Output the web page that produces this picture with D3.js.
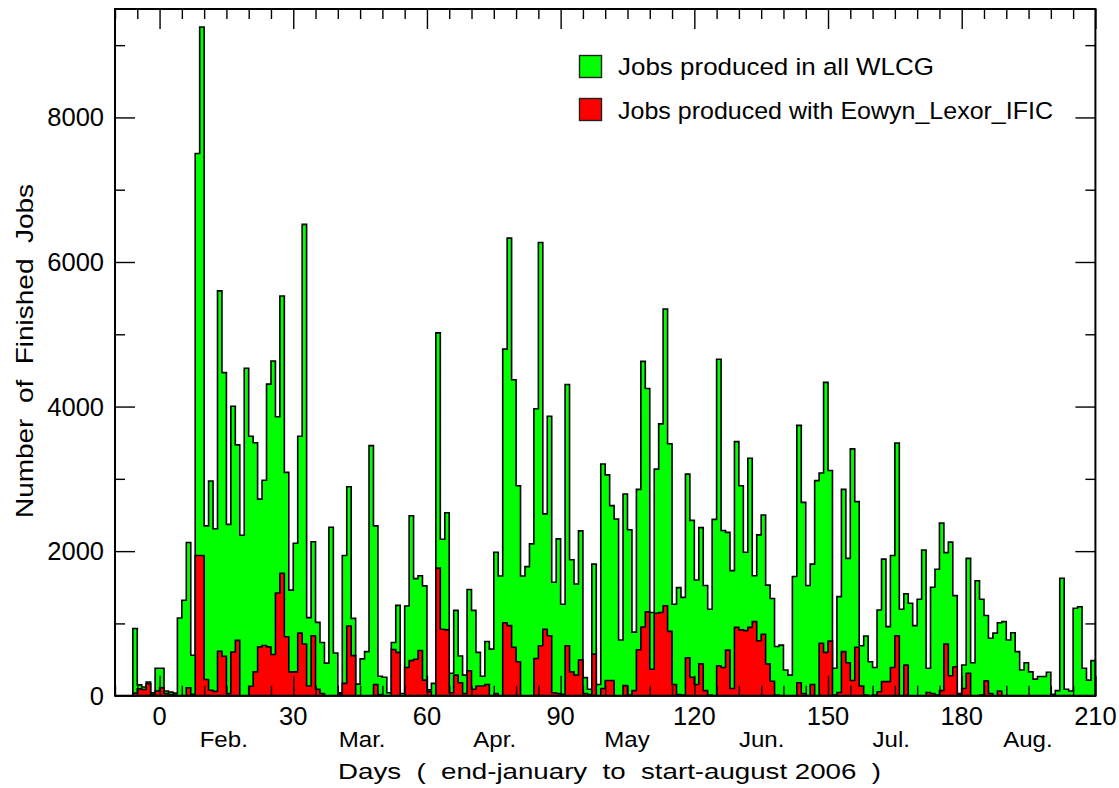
<!DOCTYPE html>
<html>
<head>
<meta charset="utf-8">
<script src="https://cdn.jsdelivr.net/npm/d3@7.9.0/dist/d3.min.js"></script>
<style>
  body { margin: 0; background: #fff; }
  svg text { font-family: "Liberation Sans", Arial, sans-serif; fill: #000; }
</style>
</head>
<body>
<div id="chart"></div>
<script>
// daily bins, first bin is day -6, last bin is day 209
const firstDay = -6;

const allJobs = [
  930, 150, 120, 190, 40, 380, 380, 65, 50, 35,
  1075, 1320, 2120, 560, 7500, 9250, 2350, 2970, 2310, 5600,
  4470, 2370, 4005, 3470, 2220, 4530, 3590, 3500, 2720, 2980,
  4310, 4630, 3860, 5530, 3090, 1460, 2110, 3590, 6520, 1080,
  2130, 1015, 735, 450, 2330, 590, 40, 1940, 2890, 1070,
  160, 510, 610, 3460, 2350, 270, 255, 40, 735, 1250,
  30, 1240, 2490, 1620, 1660, 1520, 80, 170, 5020, 2165,
  2530, 310, 1180, 550, 285, 1470, 1180, 600, 270, 750,
  645, 1985, 1655, 4795, 6330, 4370, 2905, 1655, 1785, 2100,
  3970, 6270, 2515, 3865, 1570, 2170, 1265, 4305, 1880, 1545,
  2280, 250, 90, 1820, 155, 3205, 3055, 2630, 2445, 770,
  2790, 2295, 880, 2855, 4625, 4250, 1150, 3135, 3760, 5350,
  3485, 1265, 1495, 1360, 3065, 2425, 1600, 2325, 1525, 1195,
  2440, 4655, 2285, 2260, 1730, 3515, 2905, 1985, 3285, 1660,
  2225, 2500, 1530, 1345, 680, 700, 355, 285, 1650, 3740,
  2675, 1525, 1820, 2975, 3080, 4335, 3115, 380, 1370, 2855,
  1900, 3415, 2685, 690, 825, 470, 390, 1185, 1890, 955,
  1940, 3495, 1195, 1410, 1280, 970, 1335, 2015, 380, 1500,
  1750, 2390, 1980, 2125, 1385, 30, 425, 1900, 455, 1590,
  1335, 1110, 795, 865, 1010, 1025, 770, 870, 610, 355,
  455, 330, 230, 265, 265, 325, 20, 70, 1625, 90,
  65, 1210, 1230, 380, 215, 485
];

const ificJobs = [
  35, 95, 85, 165, 20, 65, 110, 30, 15, 10,
  0, 0, 110, 20, 1940, 1940, 225, 75, 60, 615,
  545, 30, 605, 765, 0, 0, 130, 330, 675, 695,
  675, 570, 1420, 1695, 815, 330, 330, 865, 715, 135,
  830, 90, 30, 0, 0, 0, 25, 170, 965, 555,
  0, 0, 0, 0, 155, 15, 0, 0, 640, 600,
  0, 390, 485, 505, 625, 215, 55, 0, 1765, 920,
  910, 40, 285, 180, 30, 345, 90, 135, 135, 155,
  0, 30, 0, 1010, 970, 670, 470, 0, 0, 0,
  515, 690, 920, 830, 40, 30, 20, 690, 330, 285,
  495, 30, 15, 575, 0, 100, 210, 210, 0, 0,
  140, 10, 70, 635, 950, 1160, 365, 1140, 1150, 1245,
  890, 155, 15, 10, 525, 255, 155, 440, 70, 10,
  0, 415, 390, 630, 100, 945, 910, 900, 945, 1025,
  760, 850, 440, 200, 10, 0, 0, 0, 0, 180,
  30, 0, 155, 0, 725, 600, 755, 10, 45, 610,
  455, 210, 670, 135, 10, 0, 10, 55, 195, 195,
  390, 830, 0, 425, 0, 0, 0, 0, 45, 30,
  10, 70, 715, 275, 400, 20, 100, 310, 0, 0,
  10, 205, 30, 0, 65, 0, 0, 0, 0, 0,
  0, 0, 0, 0, 0, 0, 0, 0, 0, 0,
  0, 0, 0, 0, 0, 0
];

const xTicks = [0, 30, 60, 90, 120, 150, 180, 210];
const yTicks = [0, 2000, 4000, 6000, 8000];
const months = ["Feb.", "Mar.", "Apr.", "May", "Jun.", "Jul.", "Aug."];
const monthDays = [9, 40.2, 70.4, 99.8, 130, 160, 189.3];

const seriesNames = ["Jobs produced in all WLCG", "Jobs produced with Eowyn_Lexor_IFIC"];
const seriesColors = ["#00ff00", "#ff0000"];

const width = 1119;
const height = 788;
const plot = { left: 115, right: 1095.4, top: 9, bottom: 695.7 };

const svg = d3.select("#chart").append("svg")
    .attr("width", width)
    .attr("height", height);

const x = d3.scaleLinear().domain([-10, 210]).range([plot.left, plot.right]);
const y = d3.scaleLinear().domain([0, 9500]).range([plot.bottom, plot.top]);

function binPoints(values) {
    const pts = values.map((v, i) => [firstDay + i, v]);
    pts.push([firstDay + values.length, values[values.length - 1]]);
    return pts;
}

const area = d3.area()
    .x(d => x(d[0]))
    .y0(y(0))
    .y1(d => y(d[1]))
    .curve(d3.curveStepAfter);

[allJobs, ificJobs].forEach((vals, k) => {
    svg.append("path")
        .datum(binPoints(vals))
        .attr("fill", seriesColors[k])
        .attr("stroke", "#000")
        .attr("stroke-width", 1.6)
        .attr("stroke-linejoin", "miter")
        .attr("d", area);
});

// ticks pointing inside on all four sides
const minorX = d3.range(-10, 211, 5).filter(d => d % 30 !== 0);
const minorY = d3.range(1000, 9500, 2000);

function inward(axisFn, scale, values, size, translate) {
    svg.append("g")
        .attr("transform", translate)
        .call(axisFn(scale).tickValues(values).tickSize(-size).tickSizeOuter(0).tickFormat(""))
        .call(g => g.select(".domain").remove())
        .call(g => g.selectAll("line").attr("stroke", "#000").attr("stroke-width", 1.4));
}
inward(d3.axisBottom, x, xTicks, 20, `translate(0,${plot.bottom})`);
inward(d3.axisBottom, x, minorX, 10, `translate(0,${plot.bottom})`);
inward(d3.axisTop, x, xTicks, 20, `translate(0,${plot.top})`);
inward(d3.axisTop, x, minorX, 10, `translate(0,${plot.top})`);
inward(d3.axisLeft, y, yTicks, 20, `translate(${plot.left},0)`);
inward(d3.axisLeft, y, minorY, 10, `translate(${plot.left},0)`);
inward(d3.axisRight, y, yTicks, 20, `translate(${plot.right},0)`);
inward(d3.axisRight, y, minorY, 10, `translate(${plot.right},0)`);

// frame
svg.append("rect")
    .attr("x", plot.left)
    .attr("y", plot.top)
    .attr("width", plot.right - plot.left)
    .attr("height", plot.bottom - plot.top)
    .attr("fill", "none")
    .attr("stroke", "#000")
    .attr("stroke-width", 2);

// tick labels
svg.append("g").selectAll("text")
    .data(yTicks)
    .join("text")
    .attr("x", plot.left - 11)
    .attr("y", d => y(d) + 9)
    .attr("text-anchor", "end")
    .attr("font-size", 25.5)
    .text(d => d);

svg.append("g").selectAll("text")
    .data(xTicks)
    .join("text")
    .attr("x", d => x(d))
    .attr("y", 725)
    .attr("text-anchor", "middle")
    .attr("font-size", 25.5)
    .text(d => d);

svg.append("g").selectAll("text")
    .data(months)
    .join("text")
    .attr("x", (d, i) => x(monthDays[i]))
    .attr("y", 747)
    .attr("font-size", 21.5)
    .attr("transform", (d, i) => `translate(${x(monthDays[i])},0) scale(1.12,1) translate(${-x(monthDays[i])},0)`)
    .text(d => d);

// axis titles
svg.append("text")
    .attr("x", 338)
    .attr("y", 779)
    .attr("font-size", 22.5)
    .attr("textLength", 543)
    .attr("lengthAdjust", "spacingAndGlyphs")
    .style("white-space", "pre")
    .text("Days  (  end-january  to  start-august 2006  )");

svg.append("text")
    .attr("transform", "rotate(-90)")
    .attr("x", -518)
    .attr("y", 33)
    .attr("font-size", 24)
    .attr("textLength", 334)
    .attr("lengthAdjust", "spacingAndGlyphs")
    .style("white-space", "pre")
    .text("Number  of  Finished  Jobs");

// legend
const legend = svg.append("g");
const legendWidths = [316, 435];
seriesNames.forEach((name, i) => {
    legend.append("rect")
        .attr("x", 579.5)
        .attr("y", 55.5 + i * 43)
        .attr("width", 22)
        .attr("height", 22)
        .attr("fill", seriesColors[i])
        .attr("stroke", "#222")
        .attr("stroke-width", 1.4);
    legend.append("text")
        .attr("x", 618)
        .attr("y", 74.5 + i * 44)
        .attr("font-size", 24.5)
        .attr("textLength", legendWidths[i])
        .attr("lengthAdjust", "spacingAndGlyphs")
        .text(name);
});
</script>
</body>
</html>
